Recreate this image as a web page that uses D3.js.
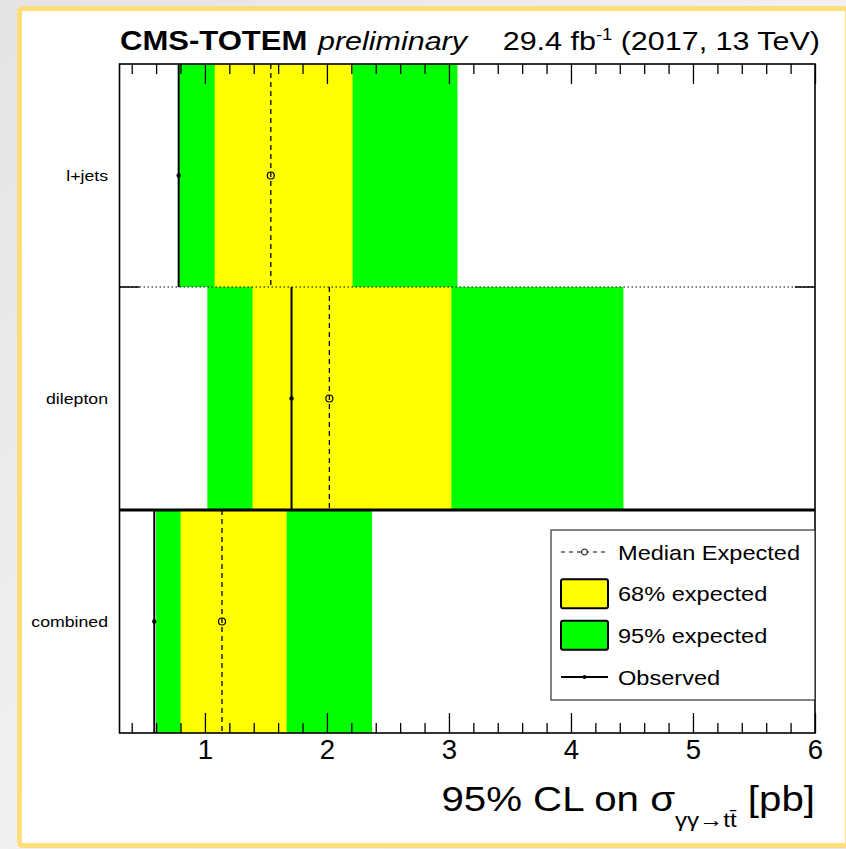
<html>
<head>
<style>
  body { margin: 0; background: #ececec; }
  text { font-family: "Liberation Sans", Arial, sans-serif; fill: #000; }
</style>
</head>
<body>
<script src="https://d3js.org/d3.v7.min.js"></script>
<script>
// values (pb)
var categories = ["l+jets", "dilepton", "combined"];
var observed   = [0.785, 1.71, 0.585];
var expMedian  = [1.54, 2.02, 1.14];
var exp68Lo    = [1.08, 1.39, 0.80];
var exp68Hi    = [2.21, 3.02, 1.67];
var exp95Lo    = [0.79, 1.02, 0.60];
var exp95Hi    = [3.07, 4.43, 2.37];
var xTicks     = [1, 2, 3, 4, 5, 6];
var legendLabels = ["Median Expected", "68% expected", "95% expected", "Observed"];

var width = 846, height = 849;
var pLeft = 119.5, pRight = 815, pTop = 64, pBottom = 733;
var stretch = 1.15; // text in the picture is a bit wide

var svg = d3.select("body").append("svg")
    .attr("width", width)
    .attr("height", height);

// page background + yellow framed panel
var grad = svg.append("defs").append("linearGradient")
    .attr("id", "bg").attr("x1", 0).attr("y1", 0).attr("x2", 1).attr("y2", 1);
grad.append("stop").attr("offset", "0%").attr("stop-color", "#e4e4e4");
grad.append("stop").attr("offset", "50%").attr("stop-color", "#f1f1f1");
grad.append("stop").attr("offset", "100%").attr("stop-color", "#e8e8e8");
svg.append("rect").attr("width", width).attr("height", height).attr("fill", "url(#bg)");
svg.append("rect")
    .attr("x", 19.5).attr("y", 8.5)
    .attr("width", 828).attr("height", 837)
    .attr("rx", 3)
    .attr("fill", "#fff")
    .attr("stroke", "#fedd7c")
    .attr("stroke-width", 5);

var x = d3.scaleLinear().domain([0.3, 6]).range([pLeft, pRight]);
var y = d3.scaleBand().domain(categories).range([pTop, pBottom]).padding(0);

function stext(g, tx, ty, str, size, anchor) {
    return g.append("text")
        .attr("transform", "translate(" + tx + "," + ty + ") scale(" + stretch + ",1)")
        .attr("text-anchor", anchor || "start")
        .attr("font-size", size)
        .text(str);
}

// bands
var rows = svg.append("g").selectAll("g")
    .data(categories)
    .enter().append("g");

rows.append("rect")
    .attr("x", function (d, i) { return x(exp95Lo[i]); })
    .attr("y", function (d) { return y(d); })
    .attr("width", function (d, i) { return x(exp95Hi[i]) - x(exp95Lo[i]); })
    .attr("height", y.bandwidth())
    .attr("fill", "#00ff00");

rows.append("rect")
    .attr("x", function (d, i) { return x(exp68Lo[i]); })
    .attr("y", function (d) { return y(d); })
    .attr("width", function (d, i) { return x(exp68Hi[i]) - x(exp68Lo[i]); })
    .attr("height", y.bandwidth())
    .attr("fill", "#ffff00");

// median expected
rows.append("line")
    .attr("x1", function (d, i) { return x(expMedian[i]); })
    .attr("x2", function (d, i) { return x(expMedian[i]); })
    .attr("y1", function (d) { return y(d); })
    .attr("y2", function (d) { return y(d) + y.bandwidth(); })
    .attr("stroke", "#000")
    .attr("stroke-width", 1.3)
    .attr("stroke-dasharray", "5,4");

rows.append("circle")
    .attr("cx", function (d, i) { return x(expMedian[i]); })
    .attr("cy", function (d) { return y(d) + y.bandwidth() / 2; })
    .attr("r", 3.5)
    .attr("fill", "none")
    .attr("stroke", "#000")
    .attr("stroke-width", 1.2);

// observed
rows.append("line")
    .attr("x1", function (d, i) { return x(observed[i]); })
    .attr("x2", function (d, i) { return x(observed[i]); })
    .attr("y1", function (d) { return y(d); })
    .attr("y2", function (d) { return y(d) + y.bandwidth(); })
    .attr("stroke", "#000")
    .attr("stroke-width", 2);

rows.append("circle")
    .attr("cx", function (d, i) { return x(observed[i]); })
    .attr("cy", function (d) { return y(d) + y.bandwidth() / 2; })
    .attr("r", 2.2)
    .attr("fill", "#000");

// row labels
categories.forEach(function (c) {
    stext(svg, 108, y(c) + y.bandwidth() / 2 + 5, c, 15.4, "end");
});

// separators between rows
categories.slice(0, -1).forEach(function (c, i) {
    var yy = y(c) + y.bandwidth();
    var combinedNext = categories[i + 1] === "combined";
    svg.append("line")
        .attr("x1", pLeft).attr("x2", pRight)
        .attr("y1", yy).attr("y2", yy)
        .attr("stroke", "#000")
        .attr("stroke-width", combinedNext ? 3 : 1)
        .attr("stroke-dasharray", combinedNext ? null : "1.5,2.5");
    // y axis ticks
    svg.append("line").attr("x1", pLeft).attr("x2", pLeft + 20)
        .attr("y1", yy).attr("y2", yy).attr("stroke", "#000").attr("stroke-width", 1.5);
    svg.append("line").attr("x1", pRight - 20).attr("x2", pRight)
        .attr("y1", yy).attr("y2", yy).attr("stroke", "#000").attr("stroke-width", 1.5);
});

// x axes (ticks pointing inward, top and bottom)
var minor = d3.range(0.4, 6.01, 0.2).filter(function (v) {
    return Math.abs(v - Math.round(v)) > 1e-6;
});

var axB = svg.append("g").attr("transform", "translate(0," + pBottom + ")")
    .call(d3.axisBottom(x).tickValues(xTicks).tickSize(-20).tickPadding(7)
        .tickFormat(d3.format("d")));
var axBm = svg.append("g").attr("transform", "translate(0," + pBottom + ")")
    .call(d3.axisBottom(x).tickValues(minor).tickSize(-10).tickFormat(""));
var axT = svg.append("g").attr("transform", "translate(0," + pTop + ")")
    .call(d3.axisTop(x).tickValues(xTicks).tickSize(-20).tickFormat(""));
var axTm = svg.append("g").attr("transform", "translate(0," + pTop + ")")
    .call(d3.axisTop(x).tickValues(minor).tickSize(-10).tickFormat(""));

[axB, axBm, axT, axTm].forEach(function (a) {
    a.select(".domain").remove();
    a.selectAll(".tick line").attr("stroke", "#000").attr("stroke-width", 1.3);
});
axB.selectAll(".tick text")
    .attr("font-size", 27)
    .attr("font-family", "Liberation Sans, Arial, sans-serif")
    .attr("transform", "scale(1.02,1)");

// frame
svg.append("rect")
    .attr("x", pLeft).attr("y", pTop)
    .attr("width", pRight - pLeft).attr("height", pBottom - pTop)
    .attr("fill", "none")
    .attr("stroke", "#000")
    .attr("stroke-width", 1.6);

// legend
var lg = svg.append("g");
lg.append("rect")
    .attr("x", 551).attr("y", 530)
    .attr("width", pRight - 551).attr("height", 170)
    .attr("fill", "#fff")
    .attr("stroke", "#333")
    .attr("stroke-width", 1.2);

var ly = d3.scalePoint().domain(legendLabels).range([552, 677]);
var sx0 = 561, sx1 = 608, smid = (sx0 + sx1) / 2;

lg.append("line")
    .attr("x1", sx0).attr("x2", sx1)
    .attr("y1", ly(legendLabels[0])).attr("y2", ly(legendLabels[0]))
    .attr("stroke", "#000").attr("stroke-width", 1.2).attr("stroke-dasharray", "4,4");
lg.append("circle")
    .attr("cx", smid).attr("cy", ly(legendLabels[0])).attr("r", 3)
    .attr("fill", "#fff").attr("stroke", "#000").attr("stroke-width", 1);

[["#ffff00", legendLabels[1]], ["#00ff00", legendLabels[2]]].forEach(function (p) {
    lg.append("rect")
        .attr("x", sx0).attr("y", ly(p[1]) - 14.5)
        .attr("width", sx1 - sx0).attr("height", 29)
        .attr("rx", 2)
        .attr("fill", p[0])
        .attr("stroke", "#000")
        .attr("stroke-width", 2);
});

lg.append("line")
    .attr("x1", sx0).attr("x2", sx1)
    .attr("y1", ly(legendLabels[3])).attr("y2", ly(legendLabels[3]))
    .attr("stroke", "#000").attr("stroke-width", 2);
lg.append("circle")
    .attr("cx", smid).attr("cy", ly(legendLabels[3])).attr("r", 2)
    .attr("fill", "#000");

legendLabels.forEach(function (l) {
    stext(lg, 618, ly(l) + 7.5, l, 20.5);
});

// header
stext(svg, 120, 49.5, "CMS-TOTEM", 27).attr("font-weight", "bold");
stext(svg, 318, 49.5, "preliminary", 26.5).attr("font-style", "italic");
var hdr = stext(svg, 820, 49.5, "", 26.5, "end");
hdr.append("tspan").text("29.4 fb");
hdr.append("tspan").attr("dy", -10).attr("font-size", 16).text("-1");
hdr.append("tspan").attr("dy", 10).text(" (2017, 13 TeV)");

// x axis title
var xt = stext(svg, 815, 811, "", 35, "end");
xt.append("tspan").text("95% CL on \u03c3");
xt.append("tspan").attr("dy", 16).attr("font-size", 21).text("\u03b3\u03b3\u2192tt\u0304");
xt.append("tspan").attr("dy", -16).text(" [pb]");
</script>
</body>
</html>
